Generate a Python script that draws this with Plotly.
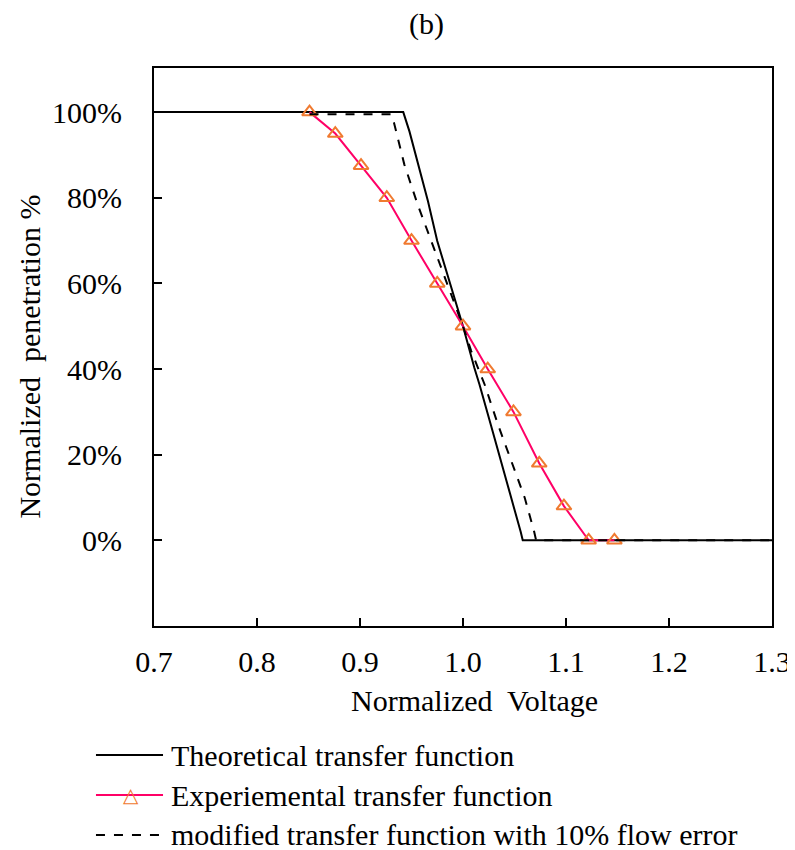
import plotly.graph_objects as go

# Theoretical transfer function
theo_x = [0.70, 0.942, 0.948, 0.966, 0.975, 0.993, 1.000, 1.011, 1.016, 1.027, 1.037, 1.047, 1.056, 1.058, 1.30]
theo_y = [1.00, 1.000, 0.955, 0.792, 0.699, 0.558, 0.500, 0.403, 0.364, 0.270, 0.185, 0.099, 0.020, 0.000, 0.00]

# Experimental transfer function
exp_x = [0.851, 0.876, 0.901, 0.926, 0.950, 0.975, 1.000, 1.024, 1.049, 1.074, 1.098, 1.122, 1.147]
exp_y = [1.00, 0.95, 0.875, 0.80, 0.70, 0.60, 0.50, 0.40, 0.30, 0.18, 0.08, 0.00, 0.00]

# Modified transfer function with 10% flow error
mod_x = [0.851, 0.930, 0.933, 0.943, 0.956, 0.969, 1.000, 1.008, 1.021, 1.034, 1.047, 1.060, 1.069, 1.071, 1.30]
mod_y = [0.995, 0.995, 0.975, 0.878, 0.784, 0.699, 0.500, 0.442, 0.364, 0.270, 0.185, 0.099, 0.021, 0.000, 0.00]

x_ticks = [0.7, 0.8, 0.9, 1.0, 1.1, 1.2, 1.3]
x_labels = ['0.7', '0.8', '0.9', '1.0', '1.1', '1.2', '1.3']
y_ticks = [0, 0.2, 0.4, 0.6, 0.8, 1.0]
y_labels = ['0%', '20%', '40%', '60%', '80%', '100%']

series_names = ['Theoretical transfer function',
                'Experiemental transfer function',
                'modified transfer function with 10% flow error']

# page has a small body margin, so the figure is a bit smaller than the window
W, H = 788, 843
FONT = 'Liberation Serif, Times New Roman, serif'
PINK = '#FF0066'
ORANGE = '#F07A30'

fig = go.Figure()
fig.add_trace(go.Scatter(
    x=theo_x, y=theo_y, mode='lines', name=series_names[0],
    line=dict(color='black', width=2)
))
fig.add_trace(go.Scatter(
    x=exp_x, y=exp_y, mode='lines+markers', name=series_names[1],
    line=dict(color=PINK, width=2),
    marker=dict(symbol='triangle-up-open', size=13, color=ORANGE, line=dict(width=2))
))
fig.add_trace(go.Scatter(
    x=mod_x, y=mod_y, mode='lines', name=series_names[2],
    line=dict(color='black', width=2, dash='dash')
))

axis_common = dict(
    showgrid=False, zeroline=False, showline=True, linecolor='black', linewidth=2,
    mirror=True, ticks='inside', ticklen=8, tickwidth=2, tickcolor='black',
    automargin=False,
    tickfont=dict(family=FONT, size=30, color='black')
)

# legend drawn by hand below the plot (paper coords)
leg_rows = [-0.2312, -0.3029, -0.3745]
leg_styles = [dict(color='black', width=2), dict(color=PINK, width=2),
              dict(color='black', width=2, dash='dash')]
shapes = []
annotations = []
for yy, name, st in zip(leg_rows, series_names, leg_styles):
    shapes.append(dict(type='line', xref='paper', yref='paper',
                       x0=-0.0939, x1=0.0146, y0=yy, y1=yy, line=st))
    annotations.append(dict(text=name, x=0.0242, y=yy, xref='paper', yref='paper',
                            xanchor='left', yanchor='middle', showarrow=False,
                            font=dict(family=FONT, size=30, color='black')))
annotations.append(dict(text='△', x=-0.0372, y=leg_rows[1], xref='paper', yref='paper',
                        xanchor='center', yanchor='middle', showarrow=False,
                        font=dict(family='DejaVu Sans', size=20, color=ORANGE)))

annotations += [
    dict(text='(b)', x=0.4417, y=1.078, xref='paper', yref='paper',
         xanchor='center', yanchor='middle',
         showarrow=False, font=dict(family=FONT, size=30)),
    dict(text='Normalized  Voltage', x=0.519, y=-0.134, xref='paper', yref='paper',
         xanchor='center', yanchor='middle',
         showarrow=False, font=dict(family=FONT, size=30)),
    dict(text='Normalized  penetration %', x=-0.203, y=0.482, xref='paper', yref='paper',
         xanchor='center', yanchor='middle',
         showarrow=False, textangle=-90, font=dict(family=FONT, size=30)),
]

fig.update_layout(
    width=W, height=H,
    margin=dict(l=146, r=24, t=60, b=225),
    paper_bgcolor='white', plot_bgcolor='white',
    font=dict(family=FONT, color='black'),
    xaxis=dict(range=[0.7, 1.3], tickvals=x_ticks, ticktext=x_labels,
               ticklabelstandoff=8, **axis_common),
    yaxis=dict(range=[-0.2, 1.103], tickvals=y_ticks, ticktext=y_labels,
               ticklabelstandoff=24, **axis_common),
    showlegend=False,
    shapes=shapes,
    annotations=annotations,
)

fig.write_html("out.html")
